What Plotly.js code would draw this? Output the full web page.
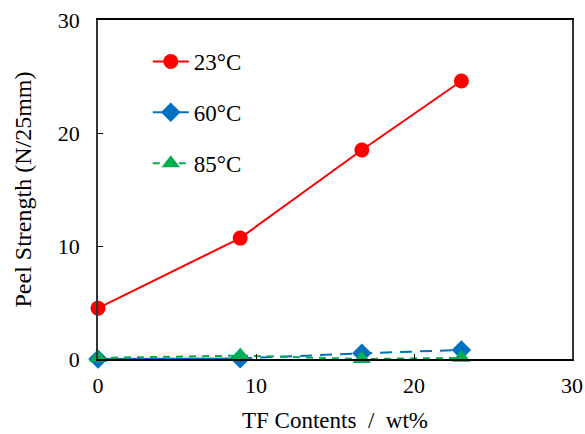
<!DOCTYPE html>
<html><head><meta charset="utf-8">
<script src="https://cdn.plot.ly/plotly-3.0.1.min.js"></script>
<style>body{margin:0;}#c{width:585px;height:434px;}</style>
</head><body><div id="c"></div>
<script>
const xVals = [0, 9, 16.7, 23];
const y23 = [4.5, 10.7, 18.5, 24.6];
const y60 = [0.0, 0.05, 0.5, 0.8];
const y85 = [0.1, 0.3, 0.0, 0.1];
const names = ['23°C', '60°C', '85°C'];
const xTicks = [0, 10, 20, 30];
const yTicks = [0, 10, 20, 30];
const xTitle = '\u00a0\u00a0TF Contents\u00a0 /\u00a0 wt%';
const yTitle = 'Peel Strength (N/25mm)';

const fam = '"Liberation Serif", "Times New Roman", serif';
const traces = [
  {x: xVals, y: y23, name: names[0], mode: 'lines+markers', legendgroup: 'a',
   line: {color: '#ff0000', width: 2}, marker: {symbol: 'circle', size: 15, color: '#ff0000'}, cliponaxis: false},
  {x: xVals.slice(0, 2), y: y60.slice(0, 2), name: names[1], mode: 'lines+markers', legendgroup: 'b',
   line: {color: '#0070c0', width: 2}, marker: {symbol: 'diamond', size: 15, color: '#0070c0'}, cliponaxis: false},
  {x: xVals.slice(1), y: y60.slice(1), name: names[1], mode: 'lines+markers', legendgroup: 'b', showlegend: false,
   line: {color: '#0070c0', width: 2, dash: '12px,8px'}, marker: {symbol: 'diamond', size: 15, color: '#0070c0'}, cliponaxis: false},
  {x: xVals, y: y85, name: names[2], mode: 'lines+markers', legendgroup: 'c',
   line: {color: '#00b050', width: 2, dash: '7px,6px'}, marker: {symbol: 'triangle-up', size: 16, color: '#00b050'}, cliponaxis: false}
];
const layout = {
  width: 585, height: 434,
  margin: {l: 98, r: 13, t: 20, b: 75},
  paper_bgcolor: '#fff', plot_bgcolor: '#fff',
  font: {family: fam, color: '#000'},
  showlegend: true,
  legend: {x: 0.105, y: 0.941, xanchor: 'left', yanchor: 'top', font: {family: fam, size: 23, color: '#000'},
           itemwidth: 36, traceorder: 'grouped', tracegroupgap: 18, bgcolor: 'rgba(0,0,0,0)'},
  xaxis: {range: [0, 30], tickvals: xTicks, ticktext: xTicks.map(String), ticks: 'inside', ticklen: 5, tickcolor: '#000',
          ticklabelstandoff: 6,
          showline: true, linecolor: '#000', linewidth: 1.5, mirror: true, showgrid: false, zeroline: false,
          tickfont: {size: 22, family: fam}, title: {text: xTitle, font: {size: 23, family: fam}, standoff: 15}},
  yaxis: {range: [0, 30], tickvals: yTicks, ticktext: yTicks.map(String), ticks: 'inside', ticklen: 5, tickcolor: '#000',
          ticklabelstandoff: 12,
          showline: true, linecolor: '#333', linewidth: 1.5, mirror: true, showgrid: false, zeroline: false,
          tickfont: {size: 22, family: fam}, title: {text: yTitle, font: {size: 24, family: fam}, standoff: 19}}
};
Plotly.newPlot('c', traces, layout, {displayModeBar: false});
</script></body></html>
